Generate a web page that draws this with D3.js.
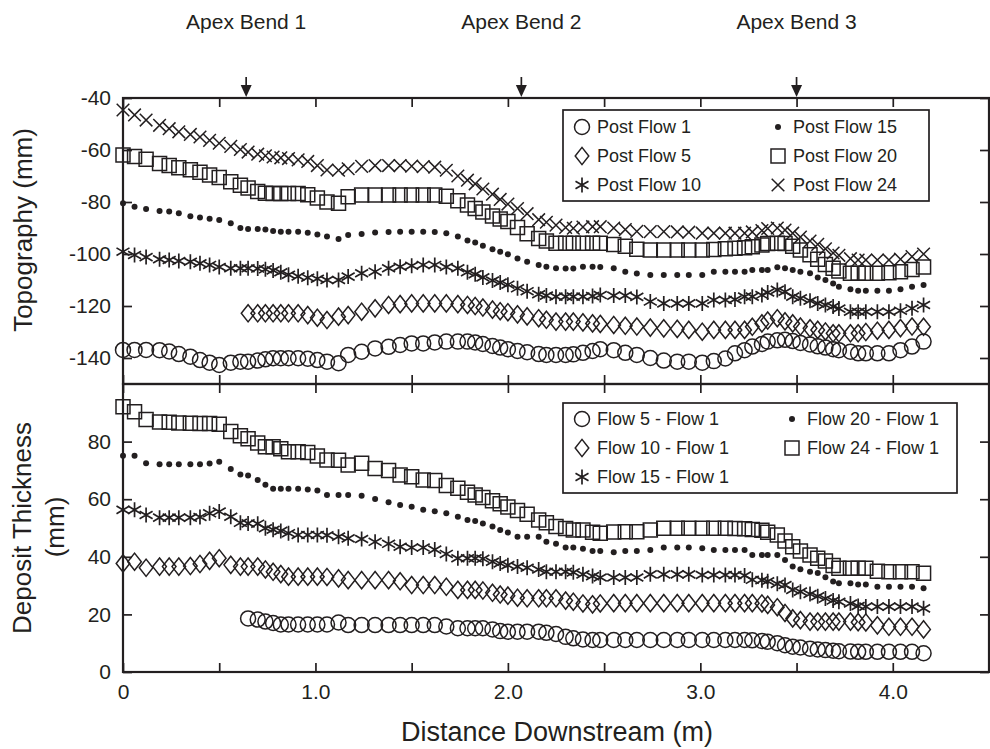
<!DOCTYPE html>
<html>
<head>
<meta charset="utf-8">
<script src="https://cdn.jsdelivr.net/npm/d3@7"></script>
<style>
  body { margin: 0; background: #fff; }
  svg text { font-family: "Liberation Sans", Arial, Helvetica, sans-serif; fill: #231f20; }
</style>
</head>
<body>
<svg id="chart" width="990" height="749"></svg>
<script>
// Survey stations along the flume (m)
const stations = [0.00, 0.06, 0.12, 0.19, 0.24, 0.29, 0.35, 0.40, 0.45, 0.50,
  0.56, 0.61, 0.65, 0.70, 0.74, 0.78, 0.82, 0.86, 0.91, 0.96,
  1.01, 1.06, 1.12, 1.17, 1.24, 1.31, 1.38, 1.44, 1.50, 1.56,
  1.62, 1.68, 1.74, 1.79, 1.83, 1.87, 1.92, 1.96, 2.00, 2.05,
  2.10, 2.16, 2.20, 2.25, 2.30, 2.34, 2.39, 2.44, 2.48, 2.55,
  2.61, 2.67, 2.74, 2.81, 2.88, 2.94, 3.01, 3.07, 3.13, 3.18,
  3.23, 3.27, 3.32, 3.35, 3.40, 3.44, 3.48, 3.52, 3.57, 3.61,
  3.65, 3.69, 3.72, 3.78, 3.82, 3.86, 3.92, 3.98, 4.04, 4.10, 4.16];

// Bed topography after each flow (mm)
const postFlow1 = [-136.9, -136.9, -136.9, -137, -137.5, -138.5, -139.5, -140.8, -141.8, -142.7,
  -141.8, -141.4, -141.4, -141, -140.5, -140.1, -140.1, -140.1, -140.1, -140.3,
  -140.8, -141.4, -142, -138.8, -137.6, -136.3, -135.7, -135, -134.4, -134.4,
  -134, -133.7, -133.7, -133.7, -134, -134.6, -135.4, -136, -136.6, -137.3,
  -137.8, -138.5, -138.8, -138.8, -138.8, -138.6, -138, -137.3, -136.6, -137,
  -138, -138.8, -140, -141, -141.4, -141.4, -141.8, -141.2, -140.2, -138.2,
  -137, -135.6, -134.6, -133.7, -133.2, -133, -133.5, -134.2, -134.8, -135.5,
  -136, -136.6, -137, -137.6, -138.2, -138.2, -138.2, -138.2, -137, -135.6, -133.7];
const postFlow5 = [null, null, null, null, null, null, null, null, null, null,
  null, null, -122.8, -122.8, -122.8, -122.8, -122.8, -122.8, -122.8, -123.5,
  -124.5, -125.4, -124.1, -123.5, -122.2, -120.9, -119.6, -119.3, -119, -119,
  -119, -119, -119.3, -119.6, -120, -120.6, -121.4, -122, -122.4, -123.2,
  -124, -124.7, -125.3, -126, -126, -126, -126.3, -126.7, -126.9, -127.3,
  -127.6, -127.9, -128.3, -128.6, -128.8, -129.2, -129.9, -129.2, -129.2, -129.2,
  -129.2, -128, -126.7, -125.6, -124.7, -125.9, -126.7, -127.9, -128.6, -129.2,
  -129.8, -130.5, -130.5, -130.5, -130.5, -130, -129.5, -129.2, -128.5, -127.9, -128];
const postFlow10 = [-99.1, -100.4, -101.2, -102, -102.3, -102.7, -103, -103.6, -104.2, -105,
  -105.5, -105.5, -105.5, -105.6, -105.9, -106.3, -107, -108, -108.6, -109.1,
  -109.5, -110, -110, -108.7, -107.4, -106.8, -105.5, -104.9, -104.5, -104.2,
  -104.2, -105, -105.5, -107, -107.8, -109, -110.2, -111, -111.8, -113.2,
  -114.3, -115.5, -116, -116.4, -116.4, -116.4, -116.4, -116.2, -115.8, -116,
  -116, -116.5, -118.3, -119, -119, -119, -119, -117.7, -117.7, -117.5,
  -116.4, -116.4, -115.8, -114.8, -113.8, -114.5, -116.4, -117, -118, -119,
  -119.6, -120.2, -121, -122.2, -122.2, -122.2, -122.2, -122.2, -121.8, -120.9, -119.6];
const postFlow15 = [-80.5, -81.8, -82.7, -83.5, -83.7, -84.3, -85.5, -86, -86.4, -86.9,
  -88.2, -90, -90.4, -90.4, -90.6, -91.2, -91.4, -91.4, -91.4, -91.8,
  -92.5, -93.3, -94.2, -92.7, -92.3, -91.7, -91.5, -91.4, -91.4, -91.4,
  -91.5, -92, -93.3, -94.8, -95.6, -96.8, -98.2, -99.1, -100.1, -101.7,
  -103, -104.2, -104.9, -105.5, -105.6, -105.6, -104.9, -104.9, -105, -105.5,
  -106.8, -107.5, -108.1, -108.1, -108.1, -108.1, -108.1, -106.8, -106.8, -106.8,
  -106.8, -106.2, -106.2, -106.2, -105.1, -105.5, -106.2, -106.8, -107.4, -109,
  -110, -111.3, -112.6, -113.6, -114.1, -114.1, -114.1, -114.1, -113.6, -112.6, -111.9];
const postFlow20 = [-61.9, -62.5, -63.6, -65.2, -66, -66.8, -67.6, -68.6, -69.6, -70.6,
  -72.2, -73.6, -74.6, -76, -76.6, -76.7, -76.7, -76.7, -76.7, -77.2,
  -78.5, -80, -80.5, -78, -77.3, -77.3, -77.3, -77.3, -77.3, -77.3,
  -77.3, -77.8, -79.5, -81.2, -82.5, -83.8, -85.4, -86.5, -87.5, -89.8,
  -92.2, -94, -95, -95.9, -95.9, -95.9, -95.9, -95.9, -95.9, -96.3,
  -97, -98.2, -98.5, -98.5, -98.5, -98.5, -98.5, -98.3, -98, -97.8,
  -97.6, -97.2, -96.5, -96, -95.9, -96, -97, -98.5, -100.3, -102,
  -104, -105.5, -106.5, -107.4, -107.4, -107.4, -107.4, -107.2, -106.8, -106, -105];
const postFlow24 = [-44.6, -46.5, -48.5, -50.5, -51.8, -53, -54, -55, -56.3, -57.4,
  -58.6, -59.8, -60.8, -61.6, -62.2, -62.7, -63, -63.3, -63.8, -64.4,
  -66, -67.7, -67.8, -67.2, -66.3, -66, -66, -66, -66.2, -66.4,
  -66.6, -67.8, -70, -71.6, -73, -75, -77, -79, -80.8, -82.5,
  -84.5, -86.8, -87.8, -88.9, -89.8, -90.1, -89.6, -89.5, -89.5, -90,
  -90.6, -91.3, -91.4, -91.4, -91.5, -91.6, -92, -92, -92, -92,
  -92, -91.5, -91, -90.2, -90, -90.8, -92, -93.5, -95, -96.3,
  -98, -99.6, -100.5, -101.8, -102.3, -102.3, -102.3, -102.3, -102, -101, -100];

// Deposit thickness relative to Flow 1 (mm)
const flow5Minus1 = [null, null, null, null, null, null, null, null, null, null,
  null, null, 18.6, 18.2, 17.5, 17, 16.5, 16.5, 16.5, 16.5,
  16.5, 16.5, 17.2, 16.3, 16.3, 16.3, 16.3, 16.3, 16.3, 16.3,
  16.3, 15.8, 15.2, 15.2, 15.2, 15.2, 14.8, 14.2, 14, 14,
  14, 14, 13.6, 13.2, 12.2, 11.7, 11.3, 11.1, 11.1, 11.1,
  11.1, 11.1, 11.1, 11.1, 11.1, 11.1, 11.1, 11.1, 11.1, 11.1,
  11.1, 11, 10.8, 10.5, 10, 9.3, 8.8, 8.5, 8.1, 7.8,
  7.6, 7.4, 7.2, 7.1, 7, 7, 7, 7, 7, 7, 6.5];
const flow10Minus1 = [37.7, 38.3, 36.2, 36.6, 36.6, 36.6, 36.8, 37.5, 38.6, 39.5,
  37.2, 36.6, 36.6, 36.6, 35.6, 34.8, 34, 33.1, 33.1, 33.1,
  33.1, 33, 32.5, 31.9, 31.9, 31.9, 31.9, 31.5, 30.2, 30.2,
  30.2, 29.6, 28.5, 28.5, 28.5, 28.3, 27.5, 26.9, 26.5, 25.8,
  25.6, 25.6, 25.6, 25.6, 24.8, 24.4, 23.8, 23.5, 23.8, 23.9,
  23.9, 23.9, 23.9, 23.9, 23.9, 23.9, 23.9, 23.9, 23.9, 23.9,
  23.9, 23.9, 23.8, 23.3, 22.5, 20.5, 18.6, 18, 17.5, 17.5,
  17.5, 17.5, 17.5, 17.5, 17.3, 17.2, 16.2, 15.7, 15.7, 15.7, 14.8];
const flow15Minus1 = [56.3, 56.3, 54.5, 53.6, 53.6, 53.6, 53.6, 53.8, 55.1, 55.7,
  53.9, 51.8, 51.6, 51.5, 49.9, 49.4, 49, 48.2, 47.6, 47.6,
  47.6, 47.5, 47, 46.4, 46.2, 45.2, 44.5, 43.5, 43.2, 43.2,
  42.5, 41, 39.5, 39.5, 39.5, 39.3, 38.3, 37.7, 37.1, 36.6,
  36.2, 35.6, 34.8, 34.8, 34.8, 34.6, 33.9, 33.3, 32.8, 32.8,
  32.8, 32.8, 33.9, 33.9, 33.9, 33.9, 33.7, 33.7, 33.7, 33.7,
  33.5, 32, 31.9, 31.5, 30.6, 30.2, 28.5, 27.9, 27.1, 26.3,
  25.5, 24.8, 24.4, 23.8, 22.9, 22.7, 22.7, 22.7, 22.7, 22.7, 22.1];
const flow20Minus1 = [75.1, 75.1, 72.5, 72.1, 72.1, 72.1, 72.1, 72.1, 72.4, 73,
  70.5, 68.6, 68.2, 66.7, 65, 63.6, 63.6, 63.6, 63.6, 63.4,
  63, 61.5, 61.5, 61.5, 61.2, 60.1, 58.9, 58, 57.4, 56.3,
  55.8, 55.1, 53.9, 52.8, 52.4, 51.6, 50.5, 49.3, 48.4, 47,
  47, 47, 45.2, 44.5, 43.2, 43.2, 42.8, 42, 42, 41.6,
  42, 42, 42.4, 43.2, 43.2, 43.2, 43, 42.4, 42.4, 42.4,
  42.4, 40.6, 40.6, 40.6, 40.6, 38.9, 36.6, 35.7, 34.8, 34.4,
  32.9, 31.4, 30.8, 30.8, 30.4, 30.4, 29.6, 29.6, 29.6, 29.6, 29.1];
const flow24Minus1 = [92.1, 90.4, 87.7, 86.8, 86.7, 86.5, 86.4, 86.3, 86.3, 86,
  83.5, 82, 81, 79.5, 78.2, 78.2, 77.5, 76.5, 76.5, 76.2,
  75, 73.6, 73.5, 71.9, 72.5, 70.7, 70, 68.4, 67.8, 66.7,
  66.5, 64.8, 63.8, 62.4, 61.5, 60.6, 59.5, 58.4, 57.3, 56.1,
  54.8, 52.8, 51.8, 50.5, 49.8, 49.3, 49.3, 48.5, 48.2, 48.6,
  48.7, 48.7, 49.3, 49.9, 49.9, 49.9, 49.9, 49.9, 49.9, 49.8,
  49.7, 49.5, 49.2, 48.5, 47.6, 45.5, 43.5, 42, 40.6, 39.5,
  38.5, 37, 36, 36, 36, 36, 35, 34.8, 34.8, 34.8, 34.3];

// Axis ticks and labels
const topTicks = [-40, -60, -80, -100, -120, -140];
const bottomTicks = [0, 20, 40, 60, 80];
const xTicks = [0, 0.5, 1.0, 1.5, 2.0, 2.5, 3.0, 3.5, 4.0, 4.5];
const xTickLabels = {0: "0", 1: "1.0", 2: "2.0", 3: "3.0", 4: "4.0"};

// Apex bend annotations
const bendPositions = [0.64, 2.07, 3.5];
const bendLabels = ["Apex Bend 1", "Apex Bend 2", "Apex Bend 3"];

const topSeries = [
  {name: "Post Flow 1", values: postFlow1, marker: "circle"},
  {name: "Post Flow 5", values: postFlow5, marker: "diamond"},
  {name: "Post Flow 10", values: postFlow10, marker: "asterisk"},
  {name: "Post Flow 15", values: postFlow15, marker: "dot"},
  {name: "Post Flow 20", values: postFlow20, marker: "square"},
  {name: "Post Flow 24", values: postFlow24, marker: "cross"}
];
const bottomSeries = [
  {name: "Flow 5 - Flow 1", values: flow5Minus1, marker: "circle"},
  {name: "Flow 10 - Flow 1", values: flow10Minus1, marker: "diamond"},
  {name: "Flow 15 - Flow 1", values: flow15Minus1, marker: "asterisk"},
  {name: "Flow 20 - Flow 1", values: flow20Minus1, marker: "dot"},
  {name: "Flow 24 - Flow 1", values: flow24Minus1, marker: "square"}
];

const INK = "#231f20";
const FONT = '"Liberation Sans", Arial, Helvetica, sans-serif';
const svg = d3.select("#chart");

const plotLeft = 123, plotRight = 989, plotTop = 98, plotMid = 384, plotBottom = 672;
const x = d3.scaleLinear().domain([0, 4.5]).range([plotLeft, plotRight]);
const yTop = d3.scaleLinear().domain([-150, -40]).range([plotMid, plotTop]);
const yBot = d3.scaleLinear().domain([0, 100]).range([plotBottom, plotMid]);

// Marker shapes as path strings centred on the origin
const markerPath = {
  circle: "M7.5,0A7.5,7.5 0 1,1 -7.5,0A7.5,7.5 0 1,1 7.5,0Z",
  diamond: "M0,-8.6L6.8,0L0,8.6L-6.8,0Z",
  square: "M-7,-7H7V7H-7Z",
  cross: "M-6.3,-6.3L6.3,6.3M-6.3,6.3L6.3,-6.3",
  asterisk: "M0,-7.5V7.5M-6.5,-3.8L6.5,3.8M-6.5,3.8L6.5,-3.8"
};

function drawMarker(g, type, cx, cy) {
  if (type === "dot") {
    g.append("circle").attr("cx", cx).attr("cy", cy).attr("r", 3).attr("fill", INK);
  } else {
    g.append("path")
      .attr("d", markerPath[type])
      .attr("transform", `translate(${cx},${cy})`)
      .attr("fill", "none")
      .attr("stroke", INK)
      .attr("stroke-width", type === "asterisk" ? 1.7 : 1.5);
  }
}

function drawSeries(seriesList, yScale) {
  const g = svg.append("g");
  seriesList.forEach(s => {
    const sg = g.append("g").attr("class", "series");
    stations.forEach((d, i) => {
      const v = s.values[i];
      if (v === null || v === undefined) return;
      drawMarker(sg, s.marker, x(d), yScale(v));
    });
  });
}

drawSeries(topSeries, yTop);
drawSeries(bottomSeries, yBot);

// Axes: every tick points inward
function styleAxis(g) {
  g.select(".domain").remove();
  g.selectAll(".tick line").attr("stroke", INK).attr("stroke-width", 1.7);
  g.selectAll(".tick text").attr("fill", INK).style("font-size", "21px").style("font-family", FONT);
}
const plainNumber = d => String(d);

svg.append("g").attr("transform", `translate(${plotLeft},0)`)
  .call(d3.axisLeft(yTop).tickValues(topTicks).tickSizeInner(-9).tickSizeOuter(0)
    .tickPadding(12).tickFormat(plainNumber))
  .call(styleAxis);
svg.append("g").attr("transform", `translate(${plotLeft},0)`)
  .call(d3.axisLeft(yBot).tickValues(bottomTicks).tickSizeInner(-9).tickSizeOuter(0)
    .tickPadding(12).tickFormat(plainNumber))
  .call(styleAxis);
svg.append("g").attr("transform", `translate(${plotRight},0)`)
  .call(d3.axisRight(yTop).tickValues(topTicks).tickSizeInner(-9).tickSizeOuter(0).tickFormat(""))
  .call(styleAxis);
svg.append("g").attr("transform", `translate(${plotRight},0)`)
  .call(d3.axisRight(yBot).tickValues(bottomTicks).tickSizeInner(-9).tickSizeOuter(0).tickFormat(""))
  .call(styleAxis);
svg.append("g").attr("transform", `translate(0,${plotTop})`)
  .call(d3.axisTop(x).tickValues(xTicks).tickSizeInner(-9).tickSizeOuter(0).tickFormat(""))
  .call(styleAxis);
svg.append("g").attr("transform", `translate(0,${plotMid})`)
  .call(d3.axisBottom(x).tickValues(xTicks).tickSizeInner(-9).tickSizeOuter(0).tickFormat(""))
  .call(styleAxis);
svg.append("g").attr("transform", `translate(0,${plotMid})`)
  .call(d3.axisTop(x).tickValues(xTicks).tickSizeInner(-9).tickSizeOuter(0).tickFormat(""))
  .call(styleAxis);
svg.append("g").attr("transform", `translate(0,${plotBottom})`)
  .call(d3.axisBottom(x).tickValues(xTicks).tickSizeInner(-9).tickSizeOuter(0).tickPadding(12)
    .tickFormat(d => xTickLabels[d] !== undefined ? xTickLabels[d] : ""))
  .call(styleAxis);

// Panel frames
const frame = svg.append("g").attr("fill", "none").attr("stroke", INK).attr("stroke-width", 2.2);
frame.append("rect").attr("x", plotLeft).attr("y", plotTop)
  .attr("width", plotRight - plotLeft).attr("height", plotMid - plotTop);
frame.append("rect").attr("x", plotLeft).attr("y", plotMid)
  .attr("width", plotRight - plotLeft).attr("height", plotBottom - plotMid);

// Axis titles
svg.append("text")
  .attr("x", 557).attr("y", 741)
  .attr("text-anchor", "middle").style("font-size", "27px")
  .text("Distance Downstream (m)");
svg.append("text")
  .attr("transform", `translate(32,230) rotate(-90)`)
  .attr("text-anchor", "middle").style("font-size", "26px")
  .text("Topography (mm)");
svg.append("text")
  .attr("transform", `translate(31,528) rotate(-90)`)
  .attr("text-anchor", "middle").style("font-size", "26px")
  .text("Deposit Thickness");
svg.append("text")
  .attr("transform", `translate(64,527) rotate(-90)`)
  .attr("text-anchor", "middle").style("font-size", "26px")
  .text("(mm)");

// Apex bend arrows
const bends = svg.append("g");
bendPositions.forEach((b, i) => {
  const bx = x(b);
  bends.append("text").attr("x", bx).attr("y", 29)
    .attr("text-anchor", "middle").style("font-size", "21px").text(bendLabels[i]);
  bends.append("line").attr("x1", bx).attr("x2", bx).attr("y1", 77).attr("y2", 87)
    .attr("stroke", INK).attr("stroke-width", 1.7);
  bends.append("path").attr("d", `M${bx - 5.5},85L${bx + 5.5},85L${bx},97Z`).attr("fill", INK);
});

// Legends
function drawLegend(seriesList, bx, by, bw, bh, col2x, textOffset, rows) {
  const g = svg.append("g");
  g.append("rect").attr("x", bx).attr("y", by).attr("width", bw).attr("height", bh)
    .attr("fill", "#fff").attr("stroke", INK).attr("stroke-width", 1.7);
  seriesList.forEach((s, i) => {
    const col = Math.floor(i / 3), row = i % 3;
    const mx = col === 0 ? bx + 19 : col2x;
    const my = rows[row];
    drawMarker(g, s.marker, mx, my);
    g.append("text").attr("x", mx + textOffset).attr("y", my).attr("dy", "0.36em")
      .style("font-size", "18px").text(s.name);
  });
}
drawLegend(topSeries, 563, 110, 366, 91, 778, 15, [127, 156, 185]);
drawLegend(bottomSeries, 563, 403, 394, 90, 792, 15, [419, 448, 477]);
</script>
</body>
</html>
